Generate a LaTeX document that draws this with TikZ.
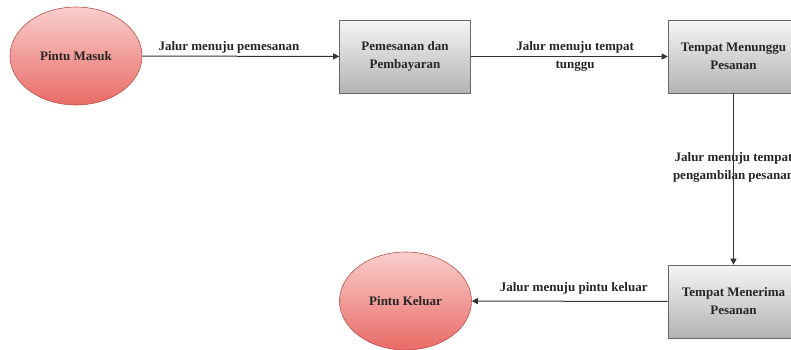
\documentclass[tikz,border=0pt]{standalone}
\usepackage{fontspec}
\setmainfont{Liberation Serif}
\usetikzlibrary{shapes.geometric,arrows.meta}
\definecolor{elborder}{HTML}{B85450}
\definecolor{eltop}{HTML}{F8CECC}
\definecolor{elbot}{HTML}{EA6B66}
\definecolor{bxtop}{HTML}{F5F5F5}
\definecolor{bxbot}{HTML}{B3B3B3}
\definecolor{bxborder}{HTML}{666666}
\definecolor{ln}{HTML}{333333}
\tikzset{
  x=1pt,y=1pt,
  txt/.style={font=\bfseries\fontsize{13}{18}\selectfont,text=black!85,align=center},
  door/.style={ellipse,draw=elborder,line width=0.6pt,top color=eltop,bottom color=elbot,minimum width=132pt,minimum height=98pt,inner sep=0pt,txt},
  stepbox/.style={rectangle,draw=bxborder,line width=0.6pt,top color=bxtop,bottom color=bxbot,minimum width=131pt,minimum height=73pt,inner sep=0pt,txt},
  flow/.style={draw=ln,line width=1pt,-{Triangle[length=6pt,width=6pt]}},
  lbl/.style={txt,fill=none,inner sep=1pt}
}
\begin{document}
\begin{tikzpicture}
\useasboundingbox (0,0) rectangle (791,-349);
\node[door] (masuk) at (76,-56) {Pintu Masuk};
\node[stepbox] (bayar) at (405,-56.5) {Pemesanan dan\\Pembayaran};
\node[stepbox] (tunggu) at (733.5,-56.5) {Tempat Menunggu\\Pesanan};
\node[stepbox] (terima) at (733.5,-301.5) {Tempat Menerima\\Pesanan};
\node[door] (keluar) at (405.5,-301) {Pintu Keluar};
\draw[flow] (masuk) -- (bayar) node[lbl,pos=0.44,above,yshift=1pt] {Jalur menuju pemesanan};
\draw[flow] (bayar) -- (tunggu) node[lbl,pos=0.53] {Jalur menuju tempat\\tunggu};
\draw[flow] (tunggu) -- (terima) node[lbl,pos=0.43] {Jalur menuju tempat\\pengambilan pesanan};
\draw[flow] (terima) -- (keluar) node[lbl,pos=0.48,above,yshift=5pt] {Jalur menuju pintu keluar};
\end{tikzpicture}
\end{document}
